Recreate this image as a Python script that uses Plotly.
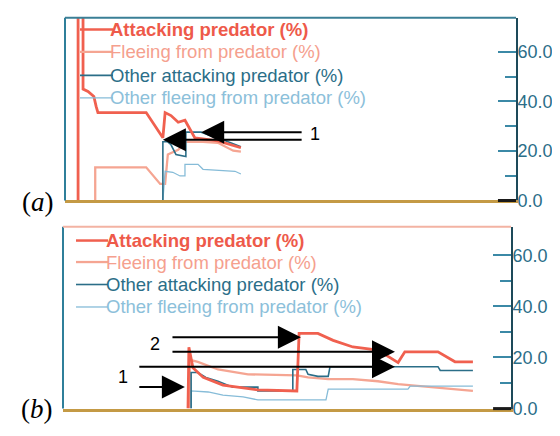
import plotly.graph_objects as go

W, H = 560, 436

# ---------------- data (panel a) ----------------
a_att_x = [2.9, 2.9, 4.0, 4.0, 5.1, 6.4, 6.9, 7.3, 18.0, 20.6, 21.7, 22.2, 23.5, 25.1, 26.6, 28.8, 33.9, 39.0]
a_att_y = [0, 78, 78, 45, 44, 42, 38, 35.5, 35.5, 28.4, 25.3, 35.5, 34.3, 31.6, 32.4, 25.3, 24.1, 21.3]
a_flee_x = [6.7, 6.7, 18.0, 21.1, 22.2, 22.8, 25.1, 26.8, 30.6, 33.9, 37.3, 39.0]
a_flee_y = [0, 13.4, 13.4, 6.7, 6.7, 18.6, 20.5, 23.7, 23.7, 23.3, 20.1, 19.7]
a_oatt_x = [21.7, 21.7, 22.8, 23.5, 24.6, 26.2, 26.8, 26.8, 30.2, 31.7, 35.0, 39.0]
a_oatt_y = [0, 23.7, 23.7, 22.5, 18.6, 17.8, 17.8, 27.6, 27.6, 26.5, 24.5, 21.7]
a_oflee_x = [21.7, 22.2, 23.9, 25.5, 26.6, 26.6, 29.5, 30.6, 37.7, 39.0]
a_oflee_y = [0, 11.8, 11.4, 9.9, 9.9, 14.6, 14.6, 12.6, 11.8, 10.7]

# ---------------- data (panel b) ----------------
b_att_x = [27.9, 28.1, 29.0, 31.3, 35.7, 43.5, 52.2, 52.7, 56.9, 60.3, 64.7, 70.3, 74.8, 76.3, 83.7, 87.5, 91.5]
b_att_y = [0, 24.0, 16.0, 12.2, 9.2, 7.3, 6.9, 29.4, 29.4, 26.7, 24.1, 22.9, 18.0, 22.2, 22.2, 18.3, 18.3]
b_flee_x = [28.3, 28.3, 30.1, 34.6, 41.3, 52.2, 54.7, 59.2, 64.7, 70.3, 74.8, 81.5, 91.5]
b_flee_y = [0, 19.1, 18.3, 15.3, 13.4, 13.0, 12.2, 11.5, 11.5, 10.7, 9.6, 8.4, 6.9]
b_oatt_x = [28.6, 28.6, 30.1, 31.9, 34.6, 37.9, 43.5, 43.5, 51.3, 51.3, 54.2, 54.7, 56.9, 59.2, 59.6, 83.7, 84.2, 91.5]
b_oatt_y = [0, 14.1, 14.1, 12.2, 10.7, 8.4, 8.4, 6.9, 6.9, 15.3, 15.3, 13.4, 12.6, 12.6, 16.4, 16.4, 14.9, 14.9]
b_oflee_x = [28.6, 28.6, 32.4, 35.7, 40.2, 43.5, 58.7, 59.2, 77.0, 77.5, 91.5]
b_oflee_y = [0, 6.9, 6.5, 5.3, 4.6, 3.4, 3.4, 7.6, 7.6, 8.8, 8.8]

series_names = ["Attacking predator (%)", "Fleeing from predator (%)",
                "Other attacking predator (%)", "Other fleeing from predator (%)"]
tick_vals = [0, 20, 40, 60]
tick_text = ["0.0", "20.0", "40.0", "60.0"]
minor_vals = [10, 30, 50]

# arrows: (tail_x, tail_y, tip_x, tip_y)
a_arrows = [(52.8, 27.6, 30.2, 27.6), (52.8, 24.5, 21.7, 24.5)]
a_labels = [(53.9, 26.8, "1")]
b_arrows = [(16.7, 8.4, 27.2, 8.4), (16.7, 16.4, 74.1, 16.4),
            (24.1, 27.9, 53.1, 27.9), (24.1, 22.2, 74.1, 22.2)]
b_labels = [(13.4, 12.2, "1"), (20.5, 25.2, "2")]

# ---------------- styles ----------------
colors = ["#f0604f", "#f5a592", "#2b6e88", "#86bcd8"]
widths = [2.8, 2.3, 1.6, 1.3]
TEAL = "#2b6e88"

fig = go.Figure()
panels = [
    ("x", "y", [(a_att_x, a_att_y), (a_flee_x, a_flee_y), (a_oatt_x, a_oatt_y), (a_oflee_x, a_oflee_y)]),
    ("x2", "y2", [(b_att_x, b_att_y), (b_flee_x, b_flee_y), (b_oatt_x, b_oatt_y), (b_oflee_x, b_oflee_y)]),
]
order = [1, 3, 2, 0]
for xa, ya, data in panels:
    for i in order:
        xs, ys = data[i]
        fig.add_trace(go.Scatter(x=xs, y=ys, mode="lines", xaxis=xa, yaxis=ya,
                                 line=dict(color=colors[i], width=widths[i]),
                                 name=series_names[i], showlegend=False, hoverinfo="skip"))

def yax(domain, rng, anchor):
    return dict(domain=domain, range=rng, side="right", anchor=anchor,
                showgrid=False, zeroline=False, showline=True, linecolor="#1d4a5a", linewidth=2,
                tickmode="array", tickvals=tick_vals, ticktext=tick_text,
                ticks="inside", ticklen=18, tickwidth=2, tickcolor="#3b89a6",
                ticklabelstandoff=-4,
                tickfont=dict(family="Liberation Sans, Arial", size=18, color=TEAL),
                minor=dict(tickmode="array", tickvals=minor_vals, ticks="inside",
                           ticklen=11, tickwidth=2, tickcolor="#3b89a6"),
                fixedrange=True)

def xax(domain, anchor):
    return dict(domain=domain, range=[0, 100], anchor=anchor, showgrid=False, zeroline=False,
                showticklabels=False, ticks="", showline=True, linecolor="#c49a45", linewidth=3,
                fixedrange=True)

fig.update_layout(
    width=W, height=H, margin=dict(l=0, r=0, t=0, b=0),
    paper_bgcolor="white", plot_bgcolor="white", showlegend=False,
    xaxis=xax([57 / W, 508 / W], "y"),
    yaxis=yax([1 - 197 / H, 1 - 10 / H], [0, 73.8], "x"),
    xaxis2=xax([55 / W, 503 / W], "y2"),
    yaxis2=yax([1 - 410 / H, 1 - 224 / H], [0, 71.1], "x2"),
)

shapes = []
annotations = []
top_cols = ["#3a7f96", "#f3b3a3"]
for k, (xa, ya) in enumerate([("x", "y"), ("x2", "y2")]):
    shapes.append(dict(type="line", xref=f"{xa} domain", yref=f"{ya} domain",
                       x0=0, x1=0, y0=0, y1=1, line=dict(color="#2f7f9a", width=2)))
    shapes.append(dict(type="line", xref=f"{xa} domain", yref=f"{ya} domain",
                       x0=0, x1=1, y0=1, y1=1, line=dict(color=top_cols[k], width=2)))
    shapes.append(dict(type="line", xref=f"{xa} domain", yref=f"{ya} domain",
                       x0=0.96, x1=1, y0=0, y1=0, line=dict(color="#1a1a1a", width=3)))

# legends (paper pixel positions)
legend_rows = [
    ([22, 45, 69, 92], 72, 105, 100),
    ([238, 260, 283, 306], 68, 100, 96),
]
text_cols = ["#ee5a4a", "#f5a08e", "#2b6e88", "#8cc0da"]
for rows, lx0, lx1, tx in legend_rows:
    for i, ry in enumerate(rows):
        shapes.append(dict(type="line", xref="paper", yref="paper",
                           x0=lx0 / W, x1=lx1 / W, y0=1 - ry / H, y1=1 - ry / H,
                           line=dict(color=colors[i], width=min(widths[i], 2.5))))
        txt = f"<b>{series_names[i]}</b>" if i == 0 else series_names[i]
        annotations.append(dict(xref="paper", yref="paper", x=tx / W, y=1 - ry / H,
                                xanchor="left", yanchor="middle", showarrow=False, text=txt,
                                font=dict(family="Liberation Sans, Arial", size=18.5, color=text_cols[i])))

for xa, ya, arrows, labels in [("x", "y", a_arrows, a_labels), ("x2", "y2", b_arrows, b_labels)]:
    for tx0, ty0, hx, hy in arrows:
        annotations.append(dict(xref=xa, yref=ya, axref=xa, ayref=ya, x=hx, y=hy, ax=tx0, ay=ty0,
                                text="", showarrow=True, arrowhead=2, arrowsize=2.3,
                                arrowwidth=2, arrowcolor="black"))
    for lx, ly, t in labels:
        annotations.append(dict(xref=xa, yref=ya, x=lx, y=ly, text=t, showarrow=False,
                                xanchor="left" if xa == "x" else "center", yanchor="middle",
                                font=dict(family="Liberation Sans, Arial", size=18, color="black")))

annotations.append(dict(xref="paper", yref="paper", x=30 / W, y=1 - 199 / H, text="(<i>a</i>)",
                        showarrow=False, xanchor="center", yanchor="middle",
                        font=dict(family="Liberation Serif, DejaVu Serif", size=27, color="black")))
annotations.append(dict(xref="paper", yref="paper", x=29 / W, y=1 - 410 / H, text="(<i>b</i>)",
                        showarrow=False, xanchor="center", yanchor="middle",
                        font=dict(family="Liberation Serif, DejaVu Serif", size=27, color="black")))

fig.update_layout(shapes=shapes, annotations=annotations)
fig.write_html("out.html")
